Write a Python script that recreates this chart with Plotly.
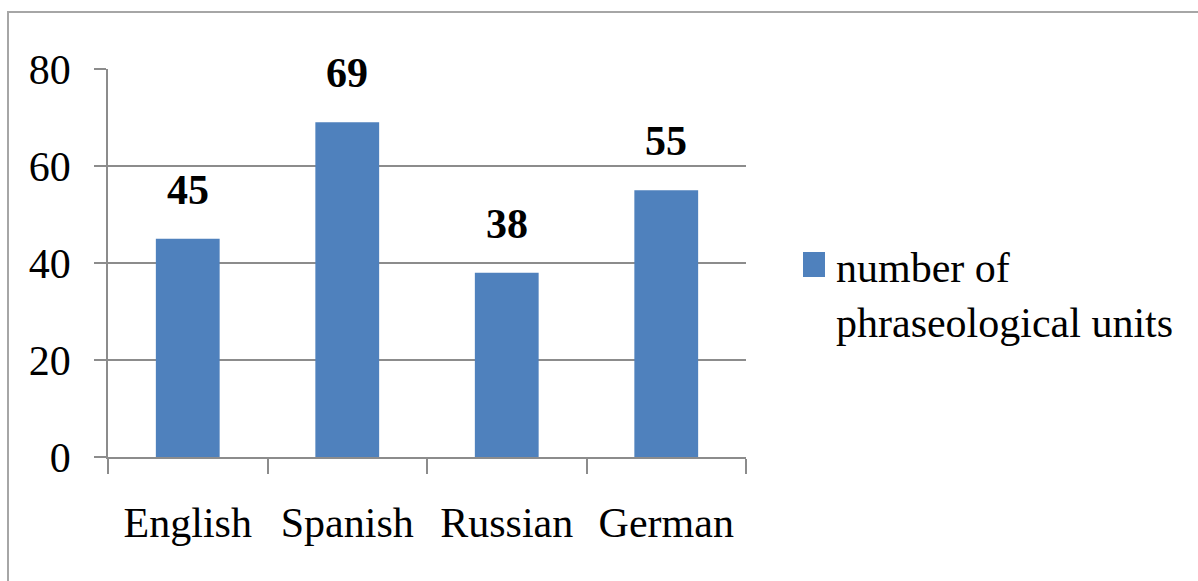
import plotly.graph_objects as go

categories = ["English", "Spanish", "Russian", "German"]
values = [45, 69, 38, 55]
series_name = "number of<br>phraseological units"
y_ticks = [0, 20, 40, 60, 80]

FONT = "Liberation Serif"
BAR = "#4F81BD"
GRID = "#8c8c8c"
W, H = 1198, 581

fig = go.Figure()
fig.add_trace(go.Bar(
    x=categories, y=values, name=series_name,
    marker=dict(color=BAR, line=dict(width=0)),
    showlegend=False,
))

for c, v in zip(categories, values):
    fig.add_annotation(x=c, y=v, text=f"<b>{v}</b>", showarrow=False,
                       yanchor="bottom", yshift=24,
                       font=dict(family=FONT, size=42, color="black"))

# outer chart border
fig.add_shape(type="rect", xref="paper", yref="paper",
              x0=(8 - 108) / 638, x1=2.0, y0=-1.0, y1=1 + (69 - 12) / 388,
              line=dict(color="#a6a6a6", width=2), layer="below")

# legend (key square + label)
fig.add_shape(type="rect", xref="paper", yref="paper",
              x0=(803 - 108) / 638, x1=(825 - 108) / 638,
              y0=(457 - 277) / 388, y1=(457 - 252) / 388,
              line=dict(width=0), fillcolor=BAR)
fig.add_annotation(xref="paper", yref="paper",
                   x=(834 - 108) / 638, y=(457 - 243) / 388,
                   xanchor="left", yanchor="top", align="left",
                   text=series_name, showarrow=False,
                   font=dict(family=FONT, size=42, color="black"))

fig.update_layout(
    width=W, height=H,
    margin=dict(l=108, r=452, t=69, b=124, pad=0),
    paper_bgcolor="white", plot_bgcolor="white",
    font=dict(family=FONT, size=42, color="black"),
    bargap=0.6,
    showlegend=False,
    xaxis=dict(
        showline=True, linecolor=GRID, linewidth=2,
        ticks="outside", tickson="boundaries", ticklen=15, tickcolor=GRID, tickwidth=1.5,
        ticklabelstandoff=28, showgrid=False,
        tickfont=dict(family=FONT, size=42, color="black"),
    ),
    yaxis=dict(
        range=[0, 80], tickvals=y_ticks,
        showline=True, linecolor=GRID, linewidth=1.5,
        showgrid=True, gridcolor=GRID, gridwidth=1.5,
        ticks="outside", ticklen=12, tickcolor=GRID, tickwidth=1.5,
        ticklabelstandoff=15, zeroline=False,
        tickfont=dict(family=FONT, size=42, color="black"),
    ),
)

fig.write_html("out.html")
